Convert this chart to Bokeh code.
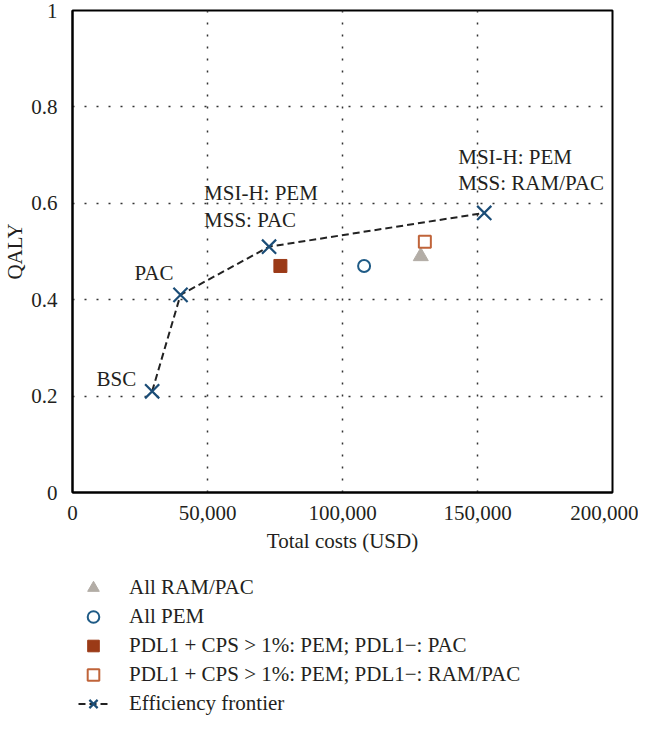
from bokeh.plotting import figure
from bokeh.layouts import column
from bokeh.models import ColumnDataSource, FixedTicker, Legend, LegendItem, NumeralTickFormatter
from bokeh.core.properties import value
from bokeh.embed import file_html
from bokeh.resources import INLINE

# ---- data ----
frontier_cost = [29500, 40000, 72800, 152500]
frontier_qaly = [0.21, 0.41, 0.51, 0.58]
frontier_labels = ["BSC", "PAC", "MSI-H: PEM\nMSS: PAC", "MSI-H: PEM\nMSS: RAM/PAC"]

all_rampac_cost = [129000]
all_rampac_qaly = [0.49]
all_pem_cost = [108000]
all_pem_qaly = [0.47]
pdl_pac_cost = [77000]
pdl_pac_qaly = [0.47]
pdl_rampac_cost = [130500]
pdl_rampac_qaly = [0.52]

legend_labels = [
    "All RAM/PAC",
    "All PEM",
    "PDL1 + CPS > 1%: PEM; PDL1\u2212: PAC",
    "PDL1 + CPS > 1%: PEM; PDL1\u2212: RAM/PAC",
    "Efficiency frontier",
]
x_ticks = [0, 50000, 100000, 150000, 200000]
y_ticks = [0, 0.2, 0.4, 0.6, 0.8, 1]

FONT = "Liberation Serif"
TXT = "#231f20"
FS = "21px"

# styles
STY = dict(
    tri=dict(marker="triangle", size=15, fill_color="#b3ada6", line_color="#b3ada6"),
    circ=dict(marker="circle", size=12, fill_color=None, line_color="#1f5b86", line_width=2),
    fsq=dict(marker="square", size=13, fill_color="#9b3a17", line_color="#9b3a17"),
    osq=dict(marker="square", size=12, fill_color=None, line_color="#c0643a", line_width=2),
    xm=dict(marker="x", size=20, line_color="#1b4d77", line_width=2.2),
    ln=dict(line_color="#222222", line_width=2, line_dash="7 4"),
)

p = figure(width=638, height=560, x_range=(0, 200000), y_range=(0, 1),
           output_backend="svg", toolbar_location=None,
           min_border_left=65, min_border_right=26, min_border_top=10, min_border_bottom=68)
p.background_fill_color = "white"
p.border_fill_color = "white"
p.outline_line_color = "black"
p.outline_line_width = 2

# axes
p.xaxis.ticker = FixedTicker(ticks=x_ticks)
p.yaxis.ticker = FixedTicker(ticks=y_ticks)
p.xaxis.formatter = NumeralTickFormatter(format="0,0")
p.yaxis.formatter = NumeralTickFormatter(format="0.[0]")
for ax in (p.xaxis[0], p.yaxis[0]):
    ax.axis_line_color = "black"
    ax.axis_line_width = 2
    ax.major_tick_line_color = None
    ax.minor_tick_line_color = None
    ax.major_label_text_font = FONT
    ax.major_label_text_font_size = FS
    ax.major_label_text_color = TXT
    ax.axis_label_text_font = FONT
    ax.axis_label_text_font_size = FS
    ax.axis_label_text_font_style = "normal"
    ax.axis_label_text_color = TXT
p.xaxis.major_label_standoff = 7
p.yaxis.major_label_standoff = 9
p.xaxis.axis_label = "Total costs (USD)"
p.yaxis.axis_label = "QALY"
p.xaxis.axis_label_standoff = 6
p.yaxis.axis_label_standoff = 1

# grid
p.xgrid.ticker = FixedTicker(ticks=[50000, 100000, 150000])
p.ygrid.ticker = FixedTicker(ticks=[0.2, 0.4, 0.6, 0.8])
for g in (p.xgrid[0], p.ygrid[0]):
    g.grid_line_color = "#333333"
    g.grid_line_dash = "2 10"
    g.grid_line_width = 1.5

# frontier
fsrc = ColumnDataSource(dict(x=frontier_cost, y=frontier_qaly, label=frontier_labels))
p.line("x", "y", source=fsrc, **STY["ln"])
p.scatter("x", "y", source=fsrc, **STY["xm"])

# other strategies
p.scatter(all_rampac_cost, all_rampac_qaly, **STY["tri"])
p.scatter(all_pem_cost, all_pem_qaly, **STY["circ"])
p.scatter(pdl_pac_cost, pdl_pac_qaly, **STY["fsq"])
p.scatter(pdl_rampac_cost, pdl_rampac_qaly, **STY["osq"])

# labels
lsrc_r = ColumnDataSource(dict(x=frontier_cost[:2], y=frontier_qaly[:2], label=frontier_labels[:2],
                               xo=[-16, -7], yo=[-12, -22]))
p.text("x", "y", text="label", source=lsrc_r, x_offset="xo", y_offset="yo",
       text_align="right", text_baseline="middle", text_font=value(FONT),
       text_font_size=FS, text_color=TXT)
lsrc_l = ColumnDataSource(dict(x=frontier_cost[2:], y=frontier_qaly[2:], label=frontier_labels[2:],
                               xo=[-65, -26], yo=[-40, -43]))
p.text("x", "y", text="label", source=lsrc_l, x_offset="xo", y_offset="yo",
       text_align="left", text_baseline="middle", text_font=value(FONT),
       text_font_size=FS, text_color=TXT, text_line_height=1.1)

# ---- legend panel (same series, drawn outside its visible range; only the legend shows) ----
pl = figure(width=638, height=158, x_range=(-2, -1), y_range=(-2, -1),
            output_backend="svg", toolbar_location=None, min_border=0)
pl.axis.visible = False
pl.grid.visible = False
pl.outline_line_color = None
pl.background_fill_color = "white"
pl.border_fill_color = "white"
l_tri = pl.scatter(all_rampac_cost, all_rampac_qaly, **STY["tri"])
l_circ = pl.scatter(all_pem_cost, all_pem_qaly, **STY["circ"])
l_fsq = pl.scatter(pdl_pac_cost, pdl_pac_qaly, **STY["fsq"])
l_osq = pl.scatter(pdl_rampac_cost, pdl_rampac_qaly, **STY["osq"])
l_ln = pl.line(frontier_cost, frontier_qaly, **STY["ln"])
l_xm = pl.scatter(frontier_cost, frontier_qaly, **STY["xm"])

legend = Legend(items=[
    LegendItem(label=legend_labels[0], renderers=[l_tri]),
    LegendItem(label=legend_labels[1], renderers=[l_circ]),
    LegendItem(label=legend_labels[2], renderers=[l_fsq]),
    LegendItem(label=legend_labels[3], renderers=[l_osq]),
    LegendItem(label=legend_labels[4], renderers=[l_ln, l_xm]),
], location=(6, 0), orientation="vertical")
legend.border_line_color = None
legend.background_fill_alpha = 0
legend.label_text_font = FONT
legend.label_text_font_size = FS
legend.label_text_color = TXT
legend.glyph_width = 30
legend.glyph_height = 29
legend.label_height = 29
legend.spacing = 0
legend.label_standoff = 21
legend.padding = 0
legend.margin = 0
pl.add_layout(legend, "center")

layout = column(p, pl, spacing=0)
open("out.html", "w").write(file_html(layout, INLINE))
